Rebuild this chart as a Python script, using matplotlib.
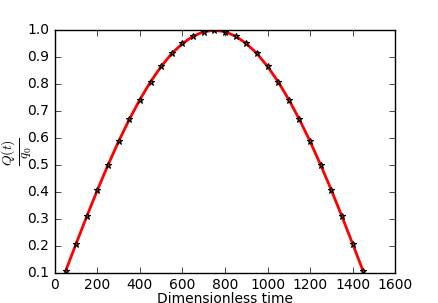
import matplotlib
matplotlib.use('Agg')
import matplotlib.pyplot as plt

plt.style.use('classic')

time = [50, 100, 150, 200, 250, 300, 350, 400, 450, 500, 550, 600, 650, 700, 750,
        800, 850, 900, 950, 1000, 1050, 1100, 1150, 1200, 1250, 1300, 1350, 1400, 1450]
charge = [0.105, 0.208, 0.309, 0.407, 0.500, 0.588, 0.669, 0.743, 0.809, 0.866,
          0.914, 0.951, 0.978, 0.995, 1.000, 0.995, 0.978, 0.951, 0.914, 0.866,
          0.809, 0.743, 0.669, 0.588, 0.500, 0.407, 0.309, 0.208, 0.105]

fig = plt.figure(figsize=(4.39, 3.03), dpi=100, facecolor='white')
ax = fig.add_subplot(111)
ax.plot(time, charge, 'r-', linewidth=2)
ax.plot(time, charge, 'r*', markersize=5, markeredgecolor='black', markeredgewidth=0.8)
ax.set_xlim(0, 1600)
ax.set_ylim(0.1, 1.0)
ax.set_xlabel('Dimensionless time', fontsize=10)
ax.set_ylabel(r'$\frac{Q(t)}{q_0}$', fontsize=14)
ax.xaxis.set_label_coords(0.5, -0.078)
ax.yaxis.set_label_coords(-0.06, 0.5)
ax.tick_params(labelsize=10, pad=4)

plt.savefig('out.png', dpi=100, facecolor='white')
plt.close(fig)
